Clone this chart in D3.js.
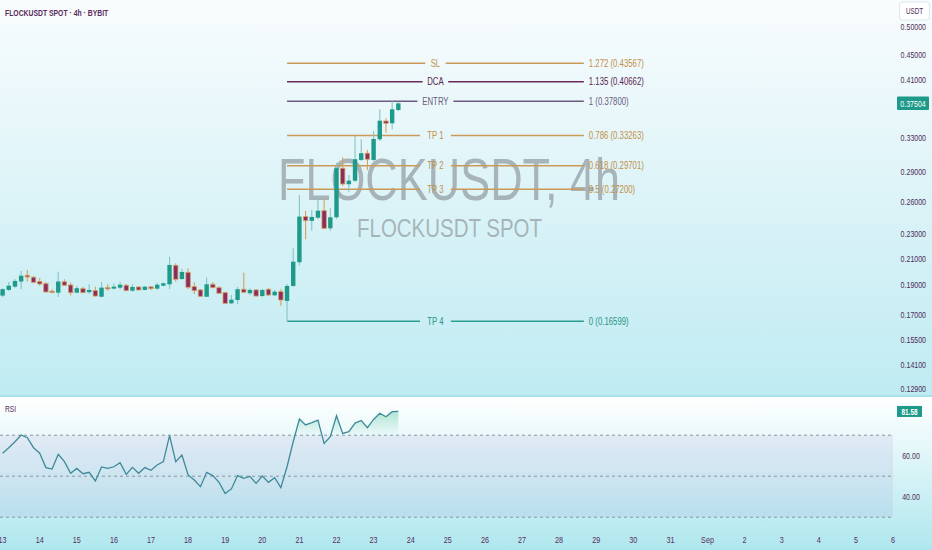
<!DOCTYPE html>
<html><head><meta charset="utf-8">
<script src="https://cdn.jsdelivr.net/npm/d3@7"></script>
<style>html,body{margin:0;padding:0;background:#fff;overflow:hidden}svg{display:block}text{font-family:"Liberation Sans",Arial,sans-serif}</style>
</head><body><svg id="c" width="932" height="550"></svg>
<script>
// ---- data ----
const startTime = Date.UTC(2024, 7, 13, 0, 0); // Aug 13, 4h candles
const opens  = [0.1827,0.1866,0.1889,0.1926,0.1971,0.1957,0.1926,0.1910,0.1857,0.1847,0.1924,0.1901,0.1847,0.1875,0.1850,0.1861,0.1819,0.1882,0.1875,0.1882,0.1899,0.1861,0.1887,0.1866,0.1887,0.1875,0.1896,0.1906,0.2046,0.1944,0.1993,0.1889,0.1866,0.1819,0.1906,0.1882,0.1847,0.1775,0.1797,0.1871,0.1843,0.1866,0.1824,0.1871,0.1829,0.1854,0.1791,0.1894,0.2070,0.2455,0.2416,0.2445,0.2510,0.2350,0.2449,0.2942,0.2771,0.2808,0.3035,0.3112,0.3035,0.3279,0.3511,0.3481,0.3659];
const highs  = [0.1878,0.1923,0.1944,0.2003,0.2011,0.1966,0.1951,0.1923,0.1871,0.1998,0.1942,0.1918,0.1894,0.1889,0.1906,0.1889,0.1923,0.1906,0.1913,0.1923,0.1908,0.1906,0.1889,0.1894,0.1894,0.1915,0.1918,0.2113,0.2062,0.2019,0.2024,0.1920,0.1871,0.1954,0.1923,0.1894,0.1854,0.1831,0.1889,0.1990,0.1878,0.1873,0.1873,0.1878,0.1866,0.1871,0.1908,0.2181,0.2662,0.2510,0.2517,0.2652,0.2630,0.2533,0.3001,0.3065,0.2869,0.3320,0.3279,0.3150,0.3382,0.3668,0.3547,0.3780,0.3774];
const lows   = [0.1815,0.1859,0.1880,0.1871,0.1926,0.1914,0.1896,0.1847,0.1843,0.1817,0.1894,0.1827,0.1843,0.1843,0.1840,0.1819,0.1815,0.1861,0.1871,0.1871,0.1857,0.1852,0.1861,0.1864,0.1866,0.1868,0.1890,0.1873,0.1926,0.1937,0.1873,0.1838,0.1819,0.1817,0.1878,0.1838,0.1772,0.1770,0.1770,0.1843,0.1831,0.1819,0.1815,0.1824,0.1824,0.1758,0.16599,0.1889,0.2044,0.2256,0.2329,0.2431,0.2344,0.2327,0.2434,0.2753,0.2695,0.2795,0.3023,0.2923,0.3023,0.3258,0.3361,0.3404,0.3645];
const closes = [0.1871,0.1896,0.1930,0.1968,0.1959,0.1920,0.1908,0.1852,0.1856,0.1926,0.1899,0.1847,0.1878,0.1847,0.1866,0.1824,0.1882,0.1881,0.1889,0.1903,0.1861,0.1887,0.1866,0.1889,0.1875,0.1903,0.1913,0.2049,0.1942,0.1996,0.1885,0.1861,0.1822,0.1906,0.1882,0.1843,0.1775,0.1799,0.1871,0.1850,0.1866,0.1824,0.1866,0.1831,0.1854,0.1797,0.1894,0.2074,0.2455,0.2418,0.2452,0.2510,0.2350,0.2449,0.2942,0.2774,0.2809,0.3043,0.3112,0.3043,0.3283,0.3515,0.3481,0.3668,0.37504];
const rsiValues = [61.2,63.9,66.8,70.1,68.8,63.9,61.2,54.2,53.5,60.7,57.1,51.4,53.8,51.2,51.9,47.7,54.5,53.8,54.6,56.6,50.9,54.3,51.4,54.2,52.9,55.5,57.1,69.8,57.1,60.3,50.6,48.1,44.9,51.9,50.3,47.0,41.5,43.8,50.3,49.0,49.9,46.5,50.1,47.0,49.3,44.4,54.6,66.8,77.9,75.0,76.1,77.4,66.0,69.3,79.5,70.9,71.7,75.9,77.1,73.7,77.7,80.7,79.0,81.5,81.58];
const fibNames  = ["SL","DCA","ENTRY","TP 1","TP 2","TP 3","TP 4"];
const fibLevels = ["1.272","1.135","1","0.786","0.618","0.5","0"];
const fibPrices = [0.43567,0.40662,0.37800,0.33263,0.29701,0.27200,0.16599];
const fibColors = ["#c99a58","#6a2a5e","#6d5a80","#c99a58","#c99a58","#c99a58","#2a9d8f"];
const fibTextColors = ["#c38f48","#5a1f50","#6a5a80","#c38f48","#c38f48","#c38f48","#2a9488"];
const fibStartIndex = 46, fibEndIndex = 94;
const priceTicks = [0.5,0.45,0.41,0.33,0.29,0.26,0.23,0.21,0.19,0.17,0.155,0.141,0.129];
const rsiTicks = [60,40];
const rsiLevels = [70,50,30];
const dayLabels = ["13","14","15","16","17","18","19","20","21","22","23","24","25","26","27","28","29","30","31","Sep","2","3","4","5","6"];
const lastPrice = 0.37504, lastRsi = 81.58;

// ---- setup ----
const svg = d3.select("#c");
const W = 932, H = 550, plotR = 893, mainBottom = 395;
const H4 = 4*3600*1000;
const t = i => new Date(startTime + i*H4);
const x = d3.scaleUtc().domain([new Date(startTime), new Date(Date.UTC(2024,8,6))]).range([2.6, 893]);
const y = d3.scaleLog().domain([0.12595, 0.5521]).range([mainBottom, 0]);
const ry = d3.scaleLinear().domain([30, 70]).range([517.2, 435.2]);
const candles = opens.map((o,i)=>({i, o, h:highs[i], l:lows[i], c:closes[i]}));
const SX = 0.78;
function ctext(g, px, py, str, o){
  const gg = g.append("g").attr("transform", `translate(${px},${py}) scale(${o.sx||SX},1)`);
  return gg.append("text").attr("text-anchor", o.anchor||"start").attr("dy", o.dy||"0.35em")
    .attr("font-size", o.size||10).attr("fill", o.fill||"#5b2b5c").attr("font-weight", o.weight||"normal").text(str);
}

const defs = svg.append("defs");
const g1 = defs.append("linearGradient").attr("id","bgMain").attr("x1",0).attr("x2",0).attr("y1",0).attr("y2",1);
g1.append("stop").attr("offset","0").attr("stop-color","#f9fcfd");
g1.append("stop").attr("offset","1").attr("stop-color","#bfebf2");
const g2 = defs.append("linearGradient").attr("id","bgRsi").attr("x1",0).attr("x2",0).attr("y1",0).attr("y2",1);
g2.append("stop").attr("offset","0").attr("stop-color","#ffffff");
g2.append("stop").attr("offset","1").attr("stop-color","#afe7ee");
const g3 = defs.append("linearGradient").attr("id","obFill").attr("gradientUnits","userSpaceOnUse")
  .attr("x1",0).attr("x2",0).attr("y1",ry(100)).attr("y2",ry(70));
g3.append("stop").attr("offset","0").attr("stop-color","#2fb887").attr("stop-opacity",0.9);
g3.append("stop").attr("offset","1").attr("stop-color","#2fb887").attr("stop-opacity",0);
defs.append("clipPath").attr("id","obClip").append("rect").attr("x",0).attr("y",398).attr("width",plotR).attr("height",ry(70)-398);
defs.append("clipPath").attr("id","mainClip").append("rect").attr("x",0).attr("y",0).attr("width",plotR).attr("height",mainBottom);

// backgrounds
svg.append("rect").attr("x",0).attr("y",0).attr("width",W).attr("height",mainBottom).attr("fill","url(#bgMain)");
svg.append("rect").attr("x",0).attr("y",397).attr("width",W).attr("height",H-397).attr("fill","url(#bgRsi)");
svg.append("rect").attr("x",0).attr("y",395).attr("width",W).attr("height",2).attr("fill","#a8e1ea");

// watermark
const wm = svg.append("g");
wm.append("text").attr("x",449).attr("y",200).attr("text-anchor","middle").attr("font-size",60)
  .attr("fill","#8f999e").attr("fill-opacity",0.7).attr("textLength",342).attr("lengthAdjust","spacingAndGlyphs").text("FLOCKUSDT, 4h");
wm.append("text").attr("x",449.5).attr("y",237).attr("text-anchor","middle").attr("font-size",25.5)
  .attr("fill","#8f999e").attr("fill-opacity",0.7).attr("textLength",185).attr("lengthAdjust","spacingAndGlyphs").text("FLOCKUSDT SPOT");

// title
ctext(svg, 5, 12.5, "FLOCKUSDT SPOT · 4h · BYBIT", {size:9.5, weight:"bold", fill:"#5b2b5c", sx:0.72});

// fib levels
const fx0 = x(t(fibStartIndex)), fx1 = x(t(fibEndIndex)), fmid = (fx0+fx1)/2;
const fib = svg.append("g");
fibPrices.forEach((p,k)=>{
  const yy = y(p);
  const name = fibNames[k];
  const halfGap = (name.length*2.6) + 5;
  fib.append("line").attr("x1",fx0).attr("x2",fmid-halfGap).attr("y1",yy).attr("y2",yy).attr("stroke",fibColors[k]).attr("stroke-width",1.6);
  fib.append("line").attr("x1",fmid+halfGap).attr("x2",fx1).attr("y1",yy).attr("y2",yy).attr("stroke",fibColors[k]).attr("stroke-width",1.6);
  ctext(fib, fmid, yy, name, {anchor:"middle", size:10, fill:fibTextColors[k]});
  ctext(fib, fx1+5, yy, `${fibLevels[k]} (${p.toFixed(5)})`, {size:10, fill:fibTextColors[k]});
});

// candles
const UP = "#1e9a8a", DOWN = "#8c2c62", DOWNB = "#d5a05e", UPW = "#86c4c6";
const cg = svg.append("g").attr("clip-path","url(#mainClip)");
const bw = 4.4;
cg.selectAll("line.w").data(candles).join("line")
  .attr("x1",d=>x(t(d.i))).attr("x2",d=>x(t(d.i))).attr("y1",d=>y(d.h)).attr("y2",d=>y(d.l))
  .attr("stroke",d=>d.c>=d.o?UPW:DOWNB).attr("stroke-width",1.1);
cg.selectAll("rect.b").data(candles).join("rect")
  .attr("x",d=>x(t(d.i))-bw/2).attr("width",bw)
  .attr("y",d=>y(Math.max(d.o,d.c))).attr("height",d=>Math.max(1.2, Math.abs(y(d.o)-y(d.c))))
  .attr("fill",d=>d.c>=d.o?UP:DOWN).attr("stroke",d=>d.c>=d.o?"none":DOWNB).attr("stroke-width",0.8);

// price axis
const pa = svg.append("g");
priceTicks.forEach(v=>ctext(pa, 926, y(v), v.toFixed(5), {anchor:"end", size:9.5, fill:"#4e2a58", sx:0.74}));
pa.append("rect").attr("x",897).attr("y",y(lastPrice)-6.8).attr("width",32).attr("height",13.5).attr("fill",UP).attr("rx",1);
ctext(pa, 913, y(lastPrice), lastPrice.toFixed(5), {anchor:"middle", size:9.5, fill:"#ffffff", sx:0.74});
pa.append("rect").attr("x",899.5).attr("y",2).attr("width",30).attr("height",18).attr("fill","#ffffff").attr("stroke","#d8e8ec").attr("rx",3);
ctext(pa, 914.5, 11.5, "USDT", {anchor:"middle", size:8.5, fill:"#4e2a58", sx:0.74});

// RSI pane
const rp = svg.append("g");
rp.append("rect").attr("x",0).attr("width",plotR).attr("y",ry(70)).attr("height",ry(30)-ry(70)).attr("fill","#7e57c2").attr("fill-opacity",0.09);
rsiLevels.forEach(v=>rp.append("line").attr("x1",0).attr("x2",plotR).attr("y1",ry(v)).attr("y2",ry(v))
  .attr("stroke","#8795a3").attr("stroke-width",1).attr("stroke-dasharray","3,3"));
const area = d3.area().x((d,i)=>x(t(i))).y0(ry(70)).y1(d=>ry(d));
rp.append("path").datum(rsiValues).attr("d",area).attr("fill","url(#obFill)").attr("clip-path","url(#obClip)");
const line = d3.line().x((d,i)=>x(t(i))).y(d=>ry(d));
rp.append("path").datum(rsiValues).attr("d",line).attr("fill","none").attr("stroke","#3f8a98").attr("stroke-width",1.3);
ctext(rp, 5, 409, "RSI", {size:8.5, fill:"#5b2b5c", sx:0.78});
rsiTicks.forEach(v=>ctext(rp, 911, ry(v), v.toFixed(2), {anchor:"middle", size:9.5, fill:"#4e2a58", sx:0.74}));
rp.append("rect").attr("x",897).attr("y",ry(lastRsi)-5.5).attr("width",25).attr("height",11).attr("fill",UP);
ctext(rp, 909.5, ry(lastRsi), lastRsi.toFixed(2), {anchor:"middle", size:9, fill:"#ffffff", weight:"bold", sx:0.72});

// time axis
const ta = svg.append("g");
dayLabels.forEach((lab,k)=>{
  const d = new Date(Date.UTC(2024,7,13+k));
  ctext(ta, x(d), 540, lab, {anchor:"middle", size:9.5, fill:"#5b2b5c", sx:0.76});
});
</script></body></html>
